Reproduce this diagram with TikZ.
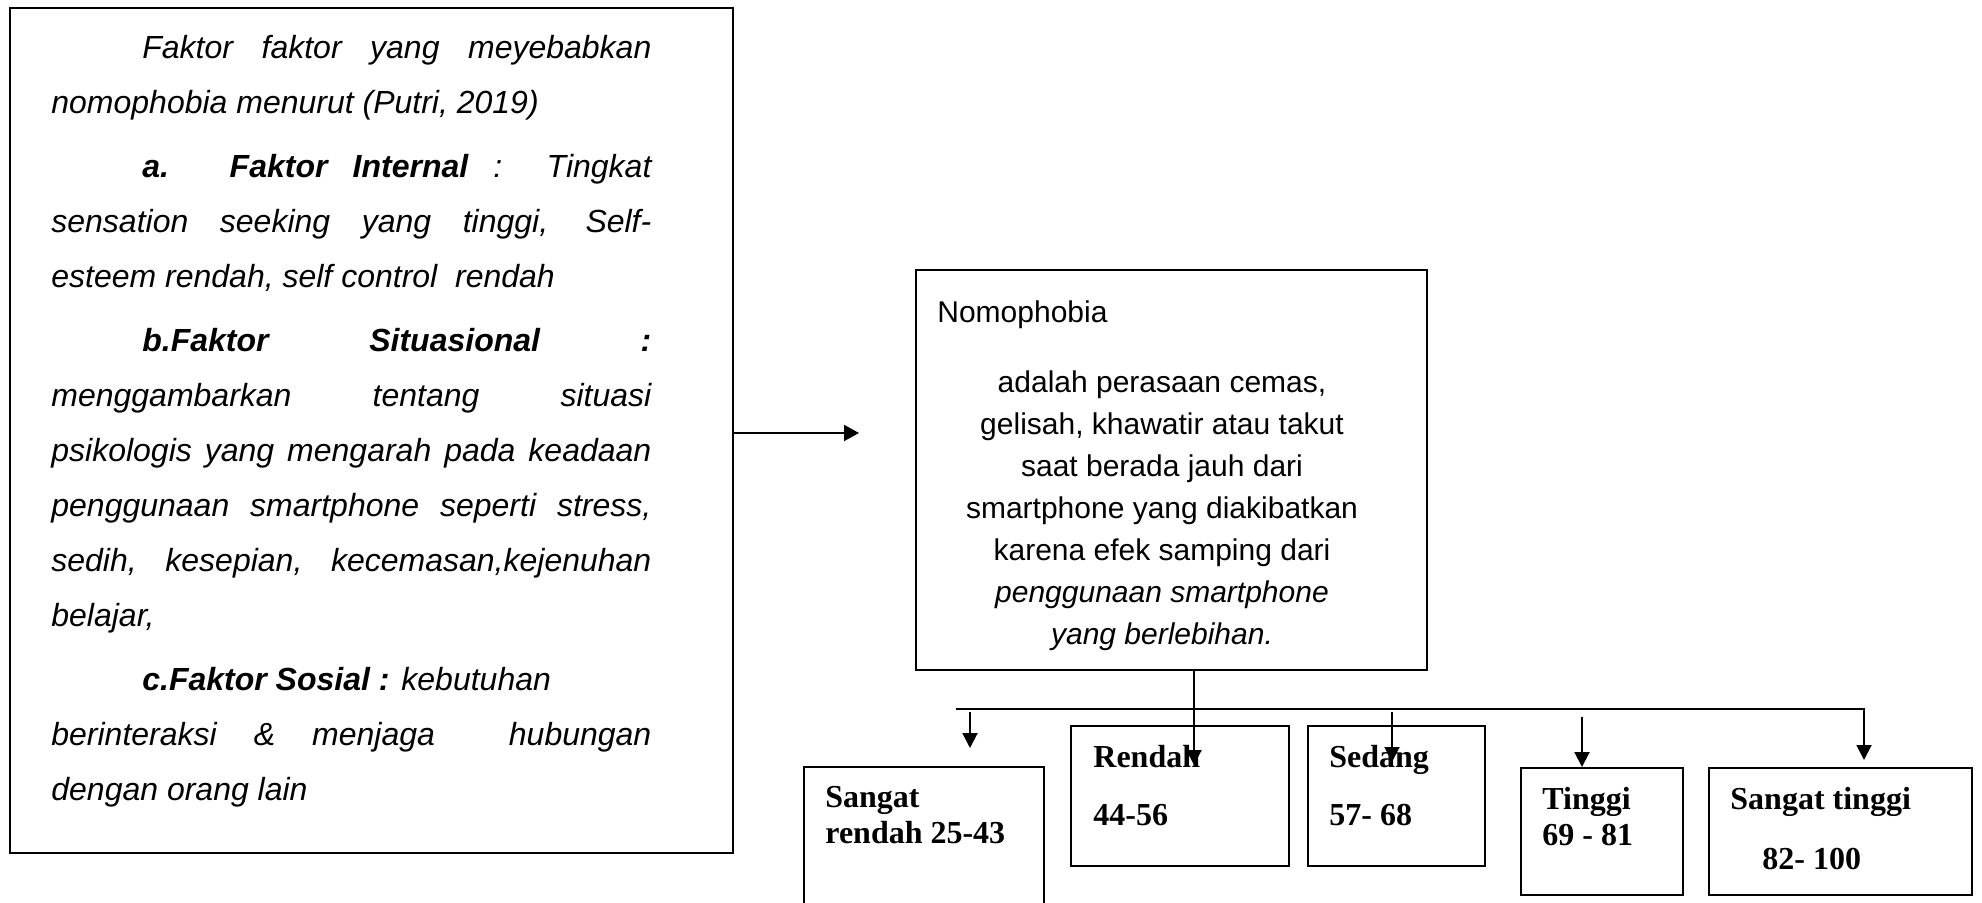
\documentclass[tikz,border=0pt]{standalone}
\usepackage{fontspec}
\setmainfont{Liberation Sans}
\newfontfamily\timesfont{Liberation Serif}
\usetikzlibrary{arrows.meta}

\begin{document}
\begin{tikzpicture}[x=0.5pt, y=-0.5pt,
  framebox/.style={draw, line width=1pt, inner sep=0pt, outer sep=0pt},
  cattext/.style={anchor=north west, inner sep=0pt, align=left, font=\timesfont\bfseries\fontsize{16pt}{18pt}\selectfont},
  arr/.style={line width=1pt, -{Triangle[length=7.5pt,width=7.5pt]}}]
\useasboundingbox (0,0) rectangle (1982,903);
\clip (0,0) rectangle (1982,903);

\node[framebox, line width=1.2pt, minimum width=361.5pt, minimum height=422.5pt] (faktor) at (371.5,430.5) {};
\node[anchor=north west, inner sep=0pt, text width=300pt, align=justify, font=\itshape\fontsize{16pt}{27.5pt}\selectfont] (faktortext) at (51,35) {%
\setlength{\parindent}{0pt}\setlength{\parskip}{4.5pt}%
\hspace*{45.5pt}Faktor faktor yang meyebabkan\linebreak nomophobia menurut (Putri, 2019)\par
\hspace*{45.5pt}\textbf{a. Faktor Internal} : Tingkat\linebreak sensation seeking yang tinggi, Self-\linebreak esteem rendah, self control\ \ rendah\par
\hspace*{45.5pt}\textbf{b.Faktor Situasional :}\linebreak menggambarkan tentang situasi\linebreak psikologis yang mengarah pada keadaan\linebreak penggunaan smartphone seperti stress,\linebreak sedih, kesepian, kecemasan,kejenuhan\linebreak belajar,\par
\hspace*{45.5pt}\textbf{c.Faktor Sosial :} kebutuhan\newline berinteraksi \& menjaga\ \ hubungan\linebreak dengan orang lain};

\node[framebox, line width=1.2pt, minimum width=255.5pt, minimum height=200pt] (nomo) at (1171.5,470) {};
\node[anchor=north west, inner sep=0pt, font=\fontsize{15pt}{18pt}\selectfont] (nomohead) at (937,300) {Nomophobia};
\node[anchor=north, inner sep=0pt, align=center, font=\fontsize{15pt}{21pt}\selectfont] (nomotext) at (1162,370) {adalah perasaan cemas,\\ gelisah, khawatir atau takut\\ saat berada jauh dari\\ smartphone yang diakibatkan\\ karena efek samping dari\\ \textit{penggunaan smartphone}\\ \textit{yang berlebihan.}};

\node[framebox, minimum width=120pt, minimum height=100pt] (srendah) at (924,867) {};
\node[cattext] (srendahtext) at ([shift={(21,19)}]srendah.north west) {Sangat\\ rendah 25-43};
\node[framebox, minimum width=109pt, minimum height=70pt] (rendah) at (1180,796) {};
\node[cattext] (rendahtext) at ([shift={(22,19)}]rendah.north west) {Rendah\\[11pt] 44-56};
\node[framebox, minimum width=88.5pt, minimum height=70pt] (sedang) at (1396.5,796) {};
\node[cattext] (sedangtext) at ([shift={(21,19)}]sedang.north west) {Sedang\\[11pt] 57- 68};
\node[framebox, minimum width=81pt, minimum height=63.5pt] (tinggi) at (1602,831.5) {};
\node[cattext] (tinggitext) at ([shift={(21,19)}]tinggi.north west) {Tinggi\\ 69 - 81};
\node[framebox, minimum width=131.5pt, minimum height=63.5pt] (stinggi) at (1840.5,831.5) {};
\node[cattext] (stinggitext) at ([shift={(21,19)}]stinggi.north west) {Sangat tinggi\\[12pt] \hspace*{16pt}82- 100};

\coordinate (ftip) at (859,433);
\coordinate (rtip) at (1194,765);
\coordinate (busL) at (956,709);
\coordinate (busR) at (1864,709);
\coordinate (sttip) at (1864,760);
\coordinate (srtip) at (970,748);
\coordinate (sdtip) at (1392,762);
\coordinate (tgtip) at (1582,767);

\draw[arr, -{Triangle[length=7.5pt,width=8pt]}] (faktor.east |- ftip) -- (ftip);
\draw[arr] (rtip |- nomo.south) -- (rtip);
\draw[arr] (busL) -- (busR) -- (sttip);
\draw[arr] ([yshift=-1.5pt]srtip |- busL) -- (srtip);
\draw[arr] ([yshift=-1.5pt]sdtip |- busL) -- (sdtip);
\draw[arr] ([yshift=-4pt]tgtip |- busL) -- (tgtip);
\end{tikzpicture}
\end{document}
